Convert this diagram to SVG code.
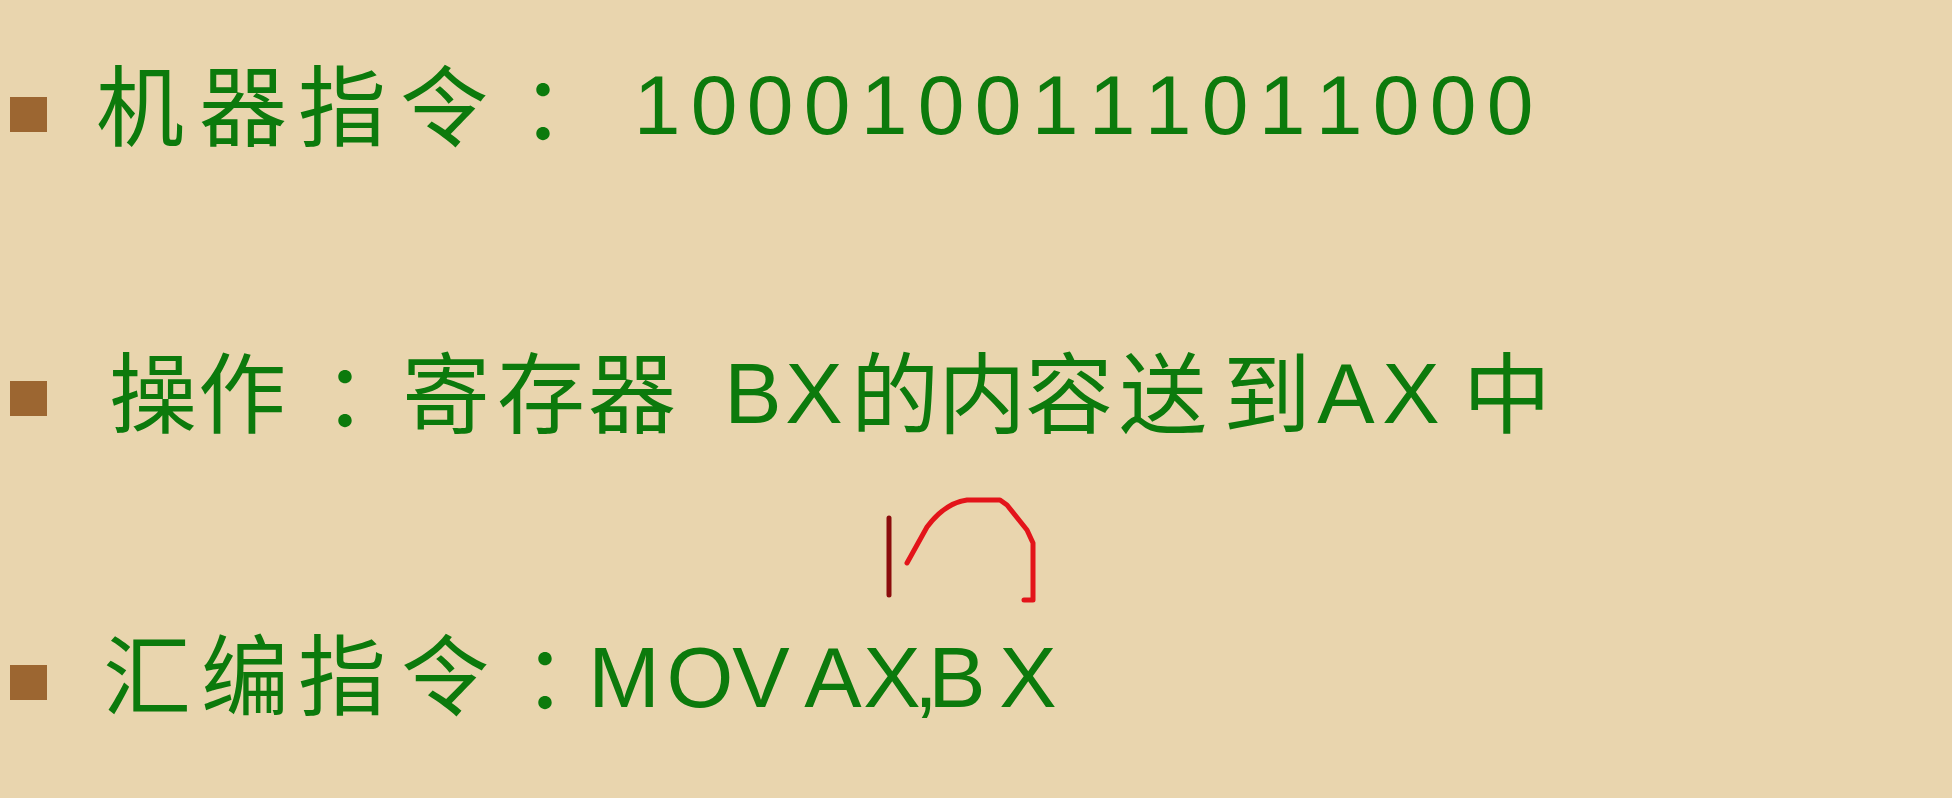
<svg xmlns="http://www.w3.org/2000/svg" width="1952" height="798" viewBox="0 0 1952 798">
<style>
.bg{fill:#e9d5ae}
.bul{fill:#9c6631}
.zh{font-family:"Noto Sans CJK SC","Liberation Sans",sans-serif;font-size:88px;fill:#0c7a0c;text-anchor:middle}
.la{font-family:"Liberation Sans",Arial,sans-serif;font-size:86px;fill:#0c7a0c;text-anchor:middle}
.dg{font-family:"Liberation Sans",Arial,sans-serif;font-size:84px;fill:#0c7a0c;text-anchor:middle}
</style>
<rect class="bg" x="0" y="0" width="1952" height="798"/>
<g id="line-machine">
<rect class="bul" x="10" y="97" width="37" height="35"/>
<text class="zh" x="140 243 342 444 565" y="139">机器指令：</text>
<text class="dg" x="657 714 770 827 884 941 998 1055 1112 1168 1225 1282 1339 1396 1453 1510" y="134">1000100111011000</text>
</g>
<g id="line-operation">
<rect class="bul" x="10" y="381" width="37" height="35"/>
<text class="zh" x="153 242 367 446 541 632" y="426">操作：寄存器</text>
<text class="la" x="753 814" y="423">BX</text>
<text class="zh" x="895 982 1069 1163 1267" y="426">的内容送到</text>
<text class="la" x="1346 1411" y="423">AX</text>
<text class="zh" x="1507" y="426">中</text>
</g>
<g id="line-assembly">
<rect class="bul" x="10" y="665" width="37" height="35"/>
<text class="zh" x="147 245 342 445 567" y="708">汇编指令：</text>
<text class="la" x="624 700 761 795 833 892 926 957 1028" y="707">MOV AX,BX</text>
</g>
<g id="annotation" fill="none" stroke-linecap="round" stroke-linejoin="round">
<line x1="889" y1="518" x2="889" y2="595" stroke="#8b0c0c" stroke-width="5"/>
<path d="M907,563 L927,527 Q945,503 967,500 L1000,500 L1007,505 L1027,530 L1033,543 L1033,600 L1024,600" stroke="#e3141a" stroke-width="5"/>
</g>
</svg>
